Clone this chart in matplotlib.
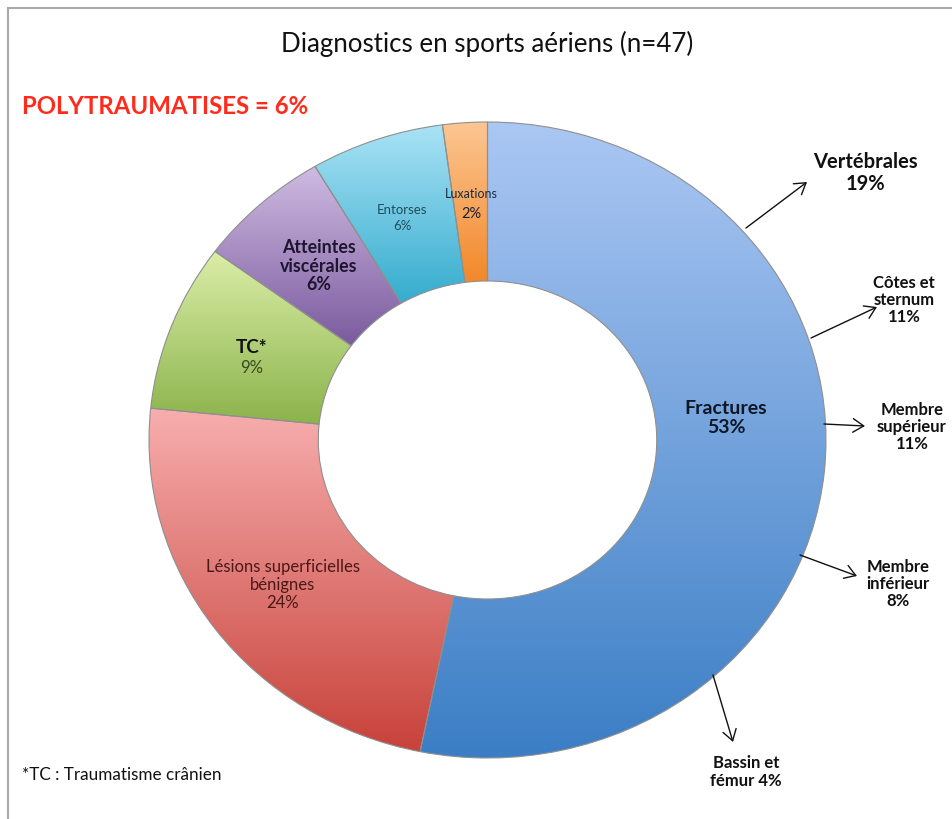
import numpy as np
import matplotlib
matplotlib.use("Agg")
import matplotlib.pyplot as plt
from matplotlib.colors import LinearSegmentedColormap
from matplotlib.patches import FancyArrowPatch
from matplotlib.lines import Line2D

# ── Data ─────────────────────────────────────────────────────────────────
TITLE = "Diagnostics en sports aériens (n=47)"
categories = ["Fractures", "Lésions superficielles\nbénignes", "TC*",
              "Atteintes\nviscérales", "Entorses", "Luxations"]
counts = [25, 11, 4, 3, 3, 1]          # n = 47
pct_labels = ["53%", "24%", "9%", "6%", "6%", "2%"]

fracture_labels = ["Vertébrales\n19%", "Côtes et\nsternum\n11%",
                   "Membre\nsupérieur\n11%", "Membre\ninférieur\n8%",
                   "Bassin et\nfémur 4%"]

# ── Style ────────────────────────────────────────────────────────────────
W, H = 953, 820
FONT = "Lato"
top_colors = ["#abc7f3", "#f7aeae", "#dbeea8", "#cfbbe2", "#aae3f5", "#fcc793"]
bottom_colors = ["#3b7ec5", "#c7423a", "#8bb34b", "#7a5a9d", "#35acce", "#f2882a"]

plt.rcParams["font.family"] = [FONT, "DejaVu Sans"]


def fp(x, y):
    """pixel (from top-left) -> figure fraction"""
    return x / W, 1 - y / H


fig = plt.figure(figsize=(W / 100, H / 100), dpi=100)

# donut (slightly elliptical, as in the original)
cx, cy, rx, ry = 487.5, 441, 338.5, 318
ax = fig.add_axes([(cx - rx) / W, (H - cy - ry) / H, 2 * rx / W, 2 * ry / H])
wedges, _ = ax.pie(counts, startangle=90, counterclock=False, radius=1,
                   wedgeprops=dict(width=0.5, edgecolor="#8f8f8f", linewidth=0.8))

grad = np.linspace(0, 1, 256).reshape(-1, 1)
for w, c_top, c_bot in zip(wedges, top_colors, bottom_colors):
    ext = w.get_path().get_extents()
    cmap = LinearSegmentedColormap.from_list("g", [c_bot, c_top])
    im = ax.imshow(grad, cmap=cmap, origin="lower", aspect="auto",
                   extent=(ext.x0, ext.x1, ext.y0, ext.y1),
                   interpolation="bicubic", zorder=1)
    im.set_clip_path(w)
    w.set_facecolor("none")
    w.set_zorder(2)
    w.set_clip_on(False)

ax.set_aspect("auto")
ax.set_xlim(-1, 1)
ax.set_ylim(-1, 1)
ax.axis("off")

# ── Texts ────────────────────────────────────────────────────────────────
fig.text(*fp(487, 44), TITLE, ha="center", va="center", fontsize=18.6, color="#111")
fig.text(*fp(22, 106), "POLYTRAUMATISES = 6%", ha="left", va="center",
         fontsize=17.3, fontweight="bold", color="#ff2b1c")
fig.text(*fp(22, 775), "*TC : Traumatisme crânien", ha="left", va="center",
         fontsize=12.3, color="#111")

# labels inside the wedges
fig.text(*fp(726, 418), f"{categories[0]}\n{pct_labels[0]}", ha="center", va="center",
         fontsize=14, fontweight="bold", color="#0f1626", linespacing=1.2)
fig.text(*fp(283, 585), f"{categories[1]}\n{pct_labels[1]}", ha="center", va="center",
         fontsize=12, color="#4a1818", linespacing=1.15)
fig.text(*fp(252, 348), categories[2], ha="center", va="center",
         fontsize=13.5, fontweight="bold", color="#111")
fig.text(*fp(252, 368), pct_labels[2], ha="center", va="center",
         fontsize=12, color="#3b4820")
fig.text(*fp(319, 266), f"{categories[3]}\n{pct_labels[3]}", ha="center", va="center",
         fontsize=12.8, fontweight="bold", color="#1f1530", linespacing=1.1)
fig.text(*fp(402, 218), f"{categories[4]}\n{pct_labels[4]}", ha="center", va="center",
         fontsize=9.5, color="#1f4d5c", linespacing=1.3)
fig.text(*fp(471, 194), categories[5], ha="center", va="center",
         fontsize=9, color="#1a2a40")
fig.text(*fp(471, 214), pct_labels[5], ha="center", va="center",
         fontsize=10.5, color="#1a2030")

# fracture breakdown with arrows
arrow_tails = [(746, 229), (811, 339), (824, 425), (800, 556), (713, 676)]
arrow_heads = [(807, 183), (877, 308), (865, 427), (857, 577), (733, 743)]
label_pos = [(865, 173), (904, 300), (912, 427), (898, 584), (746, 772)]
label_size = [14.5, 12, 12, 12, 12]

for (tx, ty), (hx, hy), (lx, ly), fs, lab in zip(arrow_tails, arrow_heads, label_pos,
                                                 label_size, fracture_labels):
    arr = FancyArrowPatch(fp(tx, ty), fp(hx, hy), transform=fig.transFigure,
                          arrowstyle="->,head_length=0.55,head_width=0.35",
                          mutation_scale=14, lw=1.0, color="#111", shrinkA=0, shrinkB=0)
    fig.add_artist(arr)
    fig.text(*fp(lx, ly), lab, ha="center", va="center", fontsize=fs,
             fontweight="bold", color="#111", linespacing=1.08)

# slide frame (top and left edges)
fig.add_artist(Line2D([8 / W, 1], [1 - 8.5 / H, 1 - 8.5 / H], color="#a9a9a9", lw=1.5,
                      transform=fig.transFigure))
fig.add_artist(Line2D([8 / W, 8 / W], [0, 1 - 8.5 / H], color="#a9a9a9", lw=1.5,
                      transform=fig.transFigure))

fig.savefig("out.png", dpi=100)
